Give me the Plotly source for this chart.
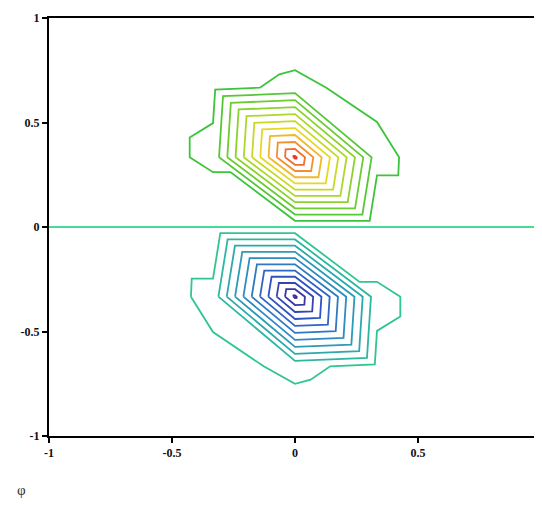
import plotly.graph_objects as go

# ---- data -----------------------------------------------------------------
# node positions of the coarse (triangulated) grid
x_nodes = [-1, -2/3, -1/3, 0, 1/3, 2/3, 1]
y_nodes = [1, 2/3, 1/3, 0, -1/3, -2/3, -1]          # rows, top to bottom

# function values at the nodes (rows follow y_nodes)
z_row_y_p100 = [0.02, 0.02, 0.11, 0.37, 0.10, 0.02, 0.02]
z_row_y_p067 = [0.02, 0.32, 0.72, 1.21, 0.66, 0.10, 0.02]
z_row_y_p033 = [0.02, 0.32, 1.27, 11.2, 1.35, 0.05, 0.02]
z_row_y_000 = [0.0, 0.0, 0.0, 0.0, 0.0, 0.0, 0.0]
z_row_y_m033 = [-0.02, -0.05, -1.35, -11.2, -1.27, -0.32, -0.02]
z_row_y_m067 = [-0.02, -0.10, -0.66, -1.21, -0.72, -0.32, -0.02]
z_row_y_m100 = [-0.02, -0.02, -0.10, -0.37, -0.11, -0.02, -0.02]
z_rows = [z_row_y_p100, z_row_y_p067, z_row_y_p033, z_row_y_000,
          z_row_y_m033, z_row_y_m067, z_row_y_m100]

contour_levels = list(range(-11, 12))

tick_vals = [-1, -0.5, 0, 0.5, 1]
tick_text = ["-1", "-0.5", "0", "0.5", "1"]

# ---- colours ----------------------------------------------------------------
color_anchors = [(-11, "#3d2a92"), (-8, "#2f52c4"), (-5, "#2e8cc0"),
                 (-2, "#2cb7a2"), (-1, "#2fc690"), (0, "#45dc95"),
                 (1, "#3cc43c"), (3, "#6ccc32"), (5, "#acd82a"),
                 (7, "#e6d822"), (8, "#f0b82a"), (9, "#f09030"),
                 (10, "#ef6e30"), (11, "#de3a2c")]


def _hex(c):
    return [int(c[k:k + 2], 16) for k in (1, 3, 5)]


def level_color(v):
    for (a, ca), (b, cb) in zip(color_anchors[:-1], color_anchors[1:]):
        if a <= v <= b:
            f = (v - a) / (b - a) if b != a else 0
            p, q = _hex(ca), _hex(cb)
            return "rgb(%d,%d,%d)" % tuple(round(p[k] + f * (q[k] - p[k])) for k in range(3))
    return color_anchors[-1][1]


# ---- linear contouring on the triangulated grid -----------------------------
def contour_paths(level):
    segs = []
    ny, nx = len(y_nodes), len(x_nodes)
    for j in range(ny - 1):
        for i in range(nx - 1):
            tl = (x_nodes[i], y_nodes[j], z_rows[j][i])
            tr = (x_nodes[i + 1], y_nodes[j], z_rows[j][i + 1])
            bl = (x_nodes[i], y_nodes[j + 1], z_rows[j + 1][i])
            br = (x_nodes[i + 1], y_nodes[j + 1], z_rows[j + 1][i + 1])
            for tri in ((bl, br, tl), (tr, tl, br)):
                above = [p[2] >= level for p in tri]
                if all(above) or not any(above):
                    continue
                pts = []
                for a, b in ((0, 1), (1, 2), (2, 0)):
                    pa, pb = tri[a], tri[b]
                    if above[a] != above[b]:
                        t = (level - pa[2]) / (pb[2] - pa[2])
                        pts.append((pa[0] + t * (pb[0] - pa[0]),
                                    pa[1] + t * (pb[1] - pa[1])))
                if len(pts) == 2:
                    if abs(pts[0][0] - pts[1][0]) + abs(pts[0][1] - pts[1][1]) > 1e-12:
                        segs.append(pts)
    # chain segments into polylines
    key = lambda p: (round(p[0], 9), round(p[1], 9))
    adj = {}
    for n, s in enumerate(segs):
        for p in s:
            adj.setdefault(key(p), []).append(n)
    used = [False] * len(segs)
    paths = []
    for n in range(len(segs)):
        if used[n]:
            continue
        used[n] = True
        path = [segs[n][0], segs[n][1]]
        for direction in (0, 1):
            while True:
                end = path[-1] if direction == 0 else path[0]
                nxt = None
                for m in adj.get(key(end), []):
                    if not used[m]:
                        nxt = m
                        break
                if nxt is None:
                    break
                used[nxt] = True
                a, b = segs[nxt]
                other = b if key(a) == key(end) else a
                if direction == 0:
                    path.append(other)
                else:
                    path.insert(0, other)
        paths.append(path)
    return paths


fig = go.Figure()
for lev in contour_levels:
    xs, ys = [], []
    for path in contour_paths(lev):
        xs += [p[0] for p in path] + [None]
        ys += [p[1] for p in path] + [None]
    if xs:
        fig.add_trace(go.Scatter(x=xs, y=ys, mode="lines", showlegend=False,
                                 line=dict(color=level_color(lev), width=1.8),
                                 hoverinfo="skip", cliponaxis=True))

axis_common = dict(range=[-1, 1], showgrid=False, zeroline=False, automargin=False,
                   showline=True, linecolor="black", linewidth=2,
                   ticks="outside", ticklen=5, tickwidth=2, tickcolor="black",
                   tickvals=tick_vals, ticktext=tick_text,
                   tickfont=dict(family="Liberation Serif", size=12, color="#111",
                                 weight="bold"))

# the page adds an 8px body margin, so the figure is sized to fit inside it
fig.update_layout(
    width=534, height=498,
    margin=dict(l=41, r=1, t=10, b=70, autoexpand=False),
    paper_bgcolor="white", plot_bgcolor="white",
    xaxis=dict(axis_common, mirror=True),
    yaxis=dict(axis_common),
    shapes=[dict(type="line", xref="paper", yref="paper", x0=1, x1=1, y0=0, y1=1,
                 line=dict(color="#d4d4d4", width=1))],
    annotations=[dict(text="φ", xref="paper", yref="paper", x=-0.055, y=-0.13,
                      showarrow=False, xanchor="center", yanchor="middle",
                      font=dict(family="Liberation Serif", size=15, color="#333"))],
)

fig.write_html("out.html")
